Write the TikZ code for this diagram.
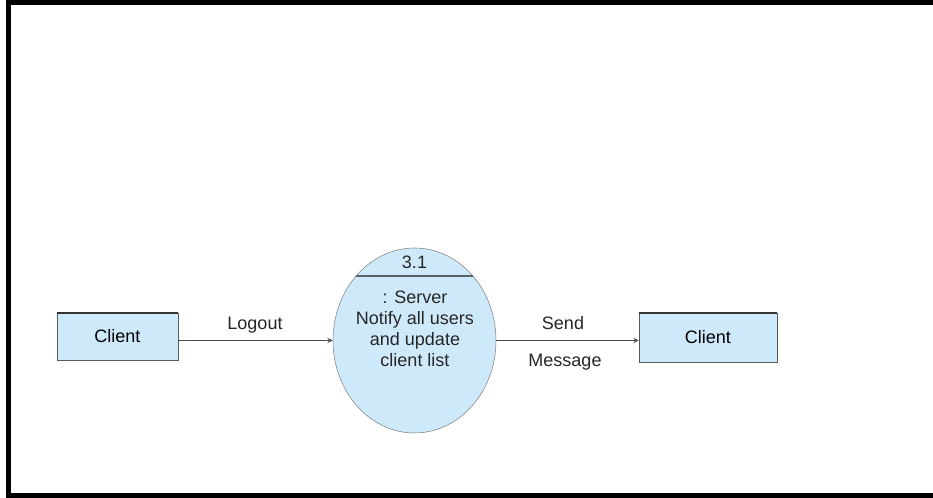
\documentclass[tikz,border=0pt]{standalone}
\usepackage{fontspec}
\setmainfont{Liberation Sans}
\usetikzlibrary{shapes.geometric}
\definecolor{boxfill}{RGB}{206,234,250}
\definecolor{edge}{RGB}{88,96,104}

\begin{document}
\begin{tikzpicture}[x=0.75pt,y=0.75pt,-stealth,font=\fontsize{13.5}{15.75}\selectfont]
\tikzstyle{store}=[draw=gray!70!black,fill=boxfill,inner sep=0pt]
\tikzstyle{flow}=[draw=black!70,line width=0.8pt]
\tikzstyle{label}=[inner sep=0pt,text=black!85]

\useasboundingbox (0,0) rectangle (933,498);
% open frame, no right side
\draw[-,line width=3.75pt] (933,495.5) -| (8.5,2.5) -- (933,2.5);

\node[store,minimum width=90.75pt,minimum height=35.25pt] (client-l) at (117.5,161.5) {Client};
\node[store,minimum width=103.5pt,minimum height=36.75pt] (client-r) at (708,160.5) {Client};
\foreach \b in {client-l,client-r}
	\draw[-,line width=1.6pt,black!80] (\b.north west) -- (\b.north east);

\node[ellipse,draw=gray,fill=boxfill,minimum width=122.25pt,minimum height=138.75pt,inner sep=0pt] (proc) at (414.5,157.5) {};
\begin{scope}
	\clip (proc.center) ellipse [x radius=61.1pt,y radius=69.4pt];
	\draw[-,edge,line width=1.5pt] (proc.west |- 0,221.5) -- (proc.east |- 0,221.5);
\end{scope}
\node[label] (num) at (414.5,236) {3.1};
\node[label,align=center] (task) at (415,169.5) {: Server\\Notify all users\\and update\\client list};

\draw[flow] (client-l.east |- proc.west) -- (proc.west);
\draw[flow] (proc.east) -- (client-r.west |- proc.east);

\node[label] (logout) at (255,173) {Logout};
\node[label] (send) at (563,175) {Send};
\node[label] (msg) at (565,136) {Message};

\end{tikzpicture}
\end{document}
